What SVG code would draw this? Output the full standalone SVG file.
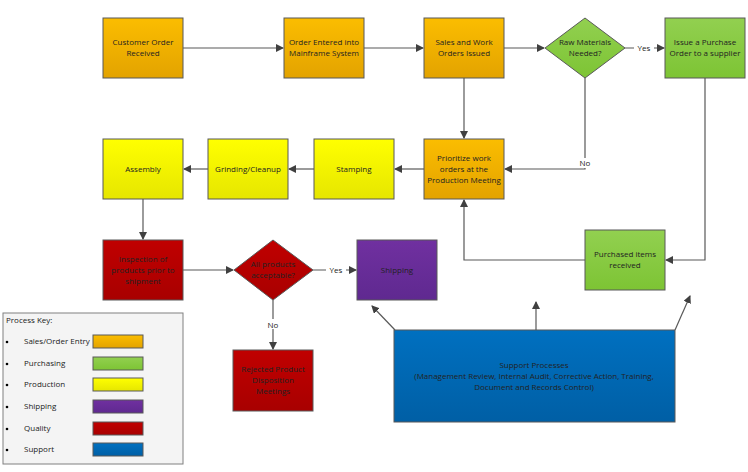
<svg xmlns="http://www.w3.org/2000/svg" width="748" height="472" viewBox="0 0 748 472">
<defs>
<linearGradient id="gO" x1="0" y1="0" x2="0" y2="1"><stop offset="0" stop-color="#fbbd00"/><stop offset="1" stop-color="#e3a300"/></linearGradient>
<linearGradient id="gG" x1="0" y1="0" x2="0" y2="1"><stop offset="0" stop-color="#92d050"/><stop offset="1" stop-color="#7dc434"/></linearGradient>
<linearGradient id="gY" x1="0" y1="0" x2="0" y2="1"><stop offset="0" stop-color="#ffff00"/><stop offset="1" stop-color="#e6e600"/></linearGradient>
<linearGradient id="gP" x1="0" y1="0" x2="0" y2="1"><stop offset="0" stop-color="#7030a0"/><stop offset="1" stop-color="#5f2990"/></linearGradient>
<linearGradient id="gR" x1="0" y1="0" x2="0" y2="1"><stop offset="0" stop-color="#c00000"/><stop offset="1" stop-color="#a80000"/></linearGradient>
<linearGradient id="gB" x1="0" y1="0" x2="0" y2="1"><stop offset="0" stop-color="#0070c0"/><stop offset="1" stop-color="#005fa5"/></linearGradient>
<marker id="a" markerWidth="8" markerHeight="8" refX="7" refY="4" orient="auto" markerUnits="userSpaceOnUse"><path d="M0,0 L8,4 L0,8 Z" fill="#404040"/></marker>
<style>
.n{stroke:#595959;stroke-width:1}
.t{font-family:"Open Sans","Liberation Sans",sans-serif;font-size:8px;fill:#222;text-anchor:middle}
.l{font-family:"Open Sans","Liberation Sans",sans-serif;font-size:8px;fill:#222}
.c{fill:none;stroke:#595959;stroke-width:1.2}
.cl{font-family:"Open Sans","Liberation Sans",sans-serif;font-size:8px;fill:#222;text-anchor:middle}
</style>
</defs>
<rect width="748" height="472" fill="#fff"/>
<g id="connectors">
<path class="c" d="M183,48 H283" marker-end="url(#a)"/>
<path class="c" d="M364,48 H423" marker-end="url(#a)"/>
<path class="c" d="M504,48 H544" marker-end="url(#a)"/>
<path class="c" d="M625,48 H664" marker-end="url(#a)"/>
<rect x="634" y="43" width="20" height="10" fill="#fff"/>
<text class="cl" x="644" y="51">Yes</text>
<path class="c" d="M464,78 V138" marker-end="url(#a)"/>
<path class="c" d="M585,78 V169 H505" marker-end="url(#a)"/>
<rect x="577" y="158" width="16" height="10" fill="#fff"/>
<text class="cl" x="585" y="166">No</text>
<path class="c" d="M424,169 H395" marker-end="url(#a)"/>
<path class="c" d="M314,169 H289" marker-end="url(#a)"/>
<path class="c" d="M208,169 H184" marker-end="url(#a)"/>
<path class="c" d="M143,199 V239" marker-end="url(#a)"/>
<path class="c" d="M183,270 H233" marker-end="url(#a)"/>
<path class="c" d="M313,270 H356" marker-end="url(#a)"/>
<rect x="326" y="265" width="20" height="10" fill="#fff"/>
<text class="cl" x="336" y="273">Yes</text>
<path class="c" d="M273,300 V349" marker-end="url(#a)"/>
<rect x="265" y="319" width="16" height="10" fill="#fff"/>
<text class="cl" x="273" y="328">No</text>
<path class="c" d="M705,78 V260 H666" marker-end="url(#a)"/>
<path class="c" d="M585,260 H464 V200" marker-end="url(#a)"/>
<path class="c" d="M395,330 L372,306" marker-end="url(#a)"/>
<path class="c" d="M536,330 V302" marker-end="url(#a)"/>
<path class="c" d="M675,330 L690,296" marker-end="url(#a)"/>
</g>
<g id="customer-order"><rect class="n" x="103" y="18" width="80" height="60" fill="url(#gO)"/><text class="t" x="143" y="45">Customer Order</text><text class="t" x="143" y="56">Received</text></g>
<g id="order-entered"><rect class="n" x="284" y="18" width="80" height="60" fill="url(#gO)"/><text class="t" x="324" y="45">Order Entered into</text><text class="t" x="324" y="56">Mainframe System</text></g>
<g id="sales-work"><rect class="n" x="424" y="18" width="80" height="60" fill="url(#gO)"/><text class="t" x="464" y="45">Sales and Work</text><text class="t" x="464" y="56">Orders Issued</text></g>
<g id="raw-materials"><path class="n" d="M585,18 L625,48 L585,78 L545,48 Z" fill="url(#gG)"/><text class="t" x="585" y="45">Raw Materials</text><text class="t" x="585" y="56">Needed?</text></g>
<g id="issue-po"><rect class="n" x="665" y="18" width="80" height="60" fill="url(#gG)"/><text class="t" x="705" y="45">Issue a Purchase</text><text class="t" x="705" y="56">Order to a supplier</text></g>
<g id="prioritize"><rect class="n" x="424" y="139" width="80" height="60" fill="url(#gO)"/><text class="t" x="464" y="161">Prioritize work</text><text class="t" x="464" y="172">orders at the</text><text class="t" x="464" y="183">Production Meeting</text></g>
<g id="stamping"><rect class="n" x="314" y="139" width="80" height="60" fill="url(#gY)"/><text class="t" x="354" y="172">Stamping</text></g>
<g id="grinding"><rect class="n" x="208" y="139" width="80" height="60" fill="url(#gY)"/><text class="t" x="248" y="172">Grinding/Cleanup</text></g>
<g id="assembly"><rect class="n" x="103" y="139" width="80" height="60" fill="url(#gY)"/><text class="t" x="143" y="172">Assembly</text></g>
<g id="inspection"><rect class="n" x="103" y="240" width="80" height="60" fill="url(#gR)"/><text class="t" x="143" y="262">Inspection of</text><text class="t" x="143" y="273">products prior to</text><text class="t" x="143" y="284">shipment</text></g>
<g id="all-products"><path class="n" d="M273,240 L313,270 L273,300 L234,270 Z" fill="url(#gR)"/><text class="t" x="273" y="267">All products</text><text class="t" x="273" y="278">acceptable?</text></g>
<g id="shipping"><rect class="n" x="357" y="240" width="80" height="60" fill="url(#gP)" stroke="#b9a3d0"/><text class="t" x="397" y="273">Shipping</text></g>
<g id="rejected"><rect class="n" x="233" y="350" width="80" height="61" fill="url(#gR)"/><text class="t" x="273" y="372">Rejected Product</text><text class="t" x="273" y="383">Disposition</text><text class="t" x="273" y="394">Meetings</text></g>
<g id="purchased"><rect class="n" x="585" y="230" width="80" height="60" fill="url(#gG)"/><text class="t" x="625" y="257">Purchased items</text><text class="t" x="625" y="268">received</text></g>
<g id="support"><rect class="n" x="394" y="330" width="281" height="92" fill="url(#gB)"/><text class="t" x="534" y="368">Support Processes</text><text class="t" x="534" y="379">(Management Review, Internal Audit, Corrective Action, Training,</text><text class="t" x="534" y="390">Document and Records Control)</text></g>
<g id="legend">
<rect x="3" y="313" width="180" height="151" fill="#f4f4f4" stroke="#808080"/>
<text class="l" x="6" y="323">Process Key:</text>
<g class="l"><circle cx="7" cy="342" r="1.3" fill="#000"/><circle cx="7" cy="364" r="1.3" fill="#000"/><circle cx="7" cy="385" r="1.3" fill="#000"/><circle cx="7" cy="407" r="1.3" fill="#000"/><circle cx="7" cy="429" r="1.3" fill="#000"/><circle cx="7" cy="450" r="1.3" fill="#000"/></g>
<text class="l" x="24" y="344">Sales/Order Entry</text>
<text class="l" x="24" y="366">Purchasing</text>
<text class="l" x="24" y="387">Production</text>
<text class="l" x="24" y="409">Shipping</text>
<text class="l" x="24" y="431">Quality</text>
<text class="l" x="24" y="452">Support</text>
<rect class="n" x="93" y="335" width="50" height="13" fill="url(#gO)"/>
<rect class="n" x="93" y="357" width="50" height="13" fill="url(#gG)"/>
<rect class="n" x="93" y="378" width="50" height="13" fill="url(#gY)"/>
<rect class="n" x="93" y="400" width="50" height="13" fill="url(#gP)"/>
<rect class="n" x="93" y="422" width="50" height="13" fill="url(#gR)"/>
<rect class="n" x="93" y="443" width="50" height="13" fill="url(#gB)"/>
</g>
</svg>
